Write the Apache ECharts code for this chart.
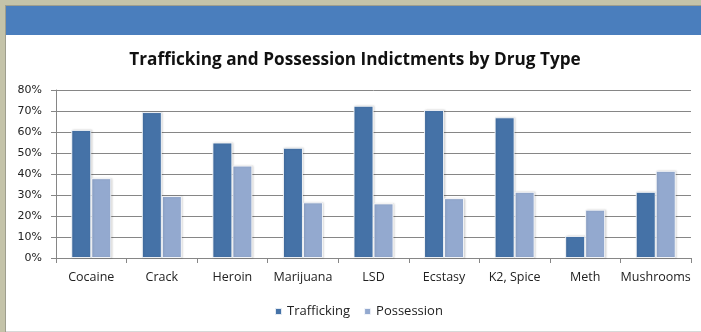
<!DOCTYPE html>
<html>
<head>
<meta charset="utf-8">
<script src="https://cdn.jsdelivr.net/npm/echarts@6/dist/echarts.min.js"></script>
<style>
html,body{margin:0;padding:0;background:#c4c3a9;}
#chart{width:701px;height:332px;}
</style>
</head>
<body>
<div id="chart"></div>
<script>
var categories = ['Cocaine','Crack','Heroin','Marijuana','LSD','Ecstasy','K2, Spice','Meth','Mushrooms'];
var trafficking = [61, 69.5, 55, 52.5, 72.5, 70.5, 67, 10.5, 31.5];
var possession = [38, 29.5, 44, 26.5, 26, 28.5, 31.5, 23, 41.5];
var yTicks = [0,10,20,30,40,50,60,70,80];

var chart = echarts.init(document.getElementById('chart'), null, {renderer:'canvas'});
var barStyle = function(c){
  return {color:c, borderColor:'rgba(255,255,255,0.85)', borderWidth:1,
          shadowColor:'rgba(0,0,0,0.15)', shadowBlur:2, shadowOffsetX:1, shadowOffsetY:0};
};
chart.setOption({
  animation:false,
  backgroundColor:'#c4c3a9',
  graphic:[
    {type:'rect', z:-10, shape:{x:5,y:5,width:696,height:327}, style:{fill:'#9e9e8e'}},
    {type:'rect', z:-9, shape:{x:6,y:35,width:695,height:296}, style:{fill:'#ffffff'}},
    {type:'rect', z:-9, shape:{x:6,y:6,width:695,height:29}, style:{fill:'#4a7ebd'}},
    {type:'rect', z:-9, shape:{x:6,y:331,width:695,height:1}, style:{fill:'#d8d8d8'}}
  ],
  title:{
    text:'Trafficking and Possession Indictments by Drug Type',
    left:350, top:47, textAlign:'center',
    textStyle:{fontFamily:'Open Sans', fontWeight:'bold', fontSize:17.2, color:'#111'}
  },
  legend:{
    data:['Trafficking','Possession'],
    left:269, top:300,
    itemWidth:7, itemHeight:7, itemGap:13,
    icon:'rect',
    textStyle:{fontFamily:'Open Sans', fontSize:13, color:'#222'}
  },
  grid:{left:56, right:10, top:90, bottom:74},
  xAxis:{
    type:'category', data:categories,
    axisLine:{lineStyle:{color:'#868686'}},
    axisTick:{show:true, length:5, lineStyle:{color:'#868686'}},
    axisLabel:{interval:0, margin:13, fontFamily:'Open Sans', fontSize:12.5, color:'#222'}
  },
  yAxis:{
    type:'value', min:0, max:80, interval:10,
    axisLine:{show:true, lineStyle:{color:'#868686'}},
    axisTick:{show:true, length:5, lineStyle:{color:'#868686'}},
    axisLabel:{margin:14, formatter:'{value}%', fontFamily:'DejaVu Sans', fontSize:11, color:'#222'},
    splitLine:{lineStyle:{color:'#868686'}}
  },
  series:[
    {name:'Trafficking', type:'bar', data:trafficking, barWidth:20, barGap:'0%', itemStyle:barStyle('#4572a7')},
    {name:'Possession', type:'bar', data:possession, barWidth:20, itemStyle:barStyle('#93a9cf')}
  ]
});
</script>
</body>
</html>
